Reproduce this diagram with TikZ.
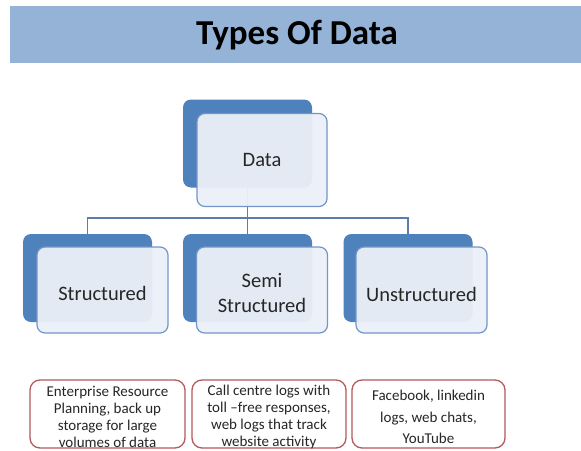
\documentclass[tikz,border=0pt]{standalone}
\usepackage{fontspec}
\setmainfont{Carlito}
\definecolor{dkblue}{HTML}{4F81BD}
\definecolor{ltfill}{HTML}{EBF0F8}
\definecolor{frborder}{HTML}{7396C8}
\definecolor{connc}{HTML}{5B7CAC}
\definecolor{redb}{HTML}{B35A5C}
\definecolor{banner}{HTML}{95B3D7}
\definecolor{txt}{HTML}{262626}
\begin{document}
\begin{tikzpicture}[x=1pt,y=-1pt,
  backbox/.style={fill=dkblue, draw=none, rounded corners=8pt, inner sep=0pt,
    minimum width=129pt, minimum height=88pt},
  frontbox/.style={fill=ltfill, fill opacity=0.95, text opacity=1, draw=frborder,
    line width=1.2pt, rounded corners=8pt, align=center, inner sep=0pt,
    minimum width=131pt, minimum height=86pt, text=txt,
    font=\fontsize{20.5}{25}\selectfont},
  conn/.style={draw=connc, line width=1.4pt},
  infobox/.style={draw=redb, line width=1.3pt, rounded corners=10pt, align=center,
    inner sep=0pt, minimum height=68pt, text=txt},
  infotext/.style={align=center, text=txt, inner sep=0pt}
]
\useasboundingbox (0,0) rectangle (581,450);
\fill[white] (0,0) rectangle (581,450);
% title banner
\node[fill=banner, inner sep=0pt, minimum width=571pt, minimum height=57pt,
  anchor=north west] (banner) at (10,6) {};
\node[font=\fontsize{35}{40}\selectfont\bfseries, text=black] (title) at (297,35) {Types Of Data};
% back boxes
\node[backbox] (dback) at (247.5,143.5) {};
\node[backbox] (sback) at (87.5,278) {};
\node[backbox] (mback) at (247.5,278) {};
\node[backbox] (uback) at (408,278) {};
% connectors
\coordinate (hub) at (247.5,218);
\draw[conn] (dback.south) -- (hub);
\draw[conn] (hub) -| (sback.north);
\draw[conn] (hub) -- (mback.north);
\draw[conn] (hub) -| (uback.north);
% front boxes
\node[frontbox, minimum width=130pt, minimum height=93pt] (data) at (262,160) {Data};
\node[frontbox] (struct) at (102.5,290) {\raisebox{-10.5pt}[0pt][0pt]{Structured}};
\node[frontbox] (semi) at (262,290) {\raisebox{-22.5pt}[0pt][0pt]{\parbox[b]{120pt}{\centering Semi\\Structured}}};
\node[frontbox] (unstruct) at (421.5,290) {\raisebox{-11.5pt}[0pt][0pt]{Unstructured}};
% examples
\node[infobox, minimum width=155pt] (ex1) at (107.5,414) {};
\node[infobox, minimum width=154pt] (ex2) at (269,414) {};
\node[infobox, minimum width=153pt] (ex3) at (428.5,414) {};
\node[infotext, font=\fontsize{15}{16.8}\selectfont, anchor=center] (t1) at (107.5,417)
  {Enterprise Resource\\Planning, back up\\storage for large\\volumes of data};
\node[infotext, font=\fontsize{15}{16.8}\selectfont, anchor=center] (t2) at (269,417)
  {Call centre logs with\\toll --free responses,\\web logs that track\\website activity};
\node[infotext, font=\fontsize{15}{21.5}\selectfont, anchor=center] (t3) at (428.5,417)
  {Facebook, linkedin\\logs, web chats,\\YouTube};
\end{tikzpicture}
\end{document}
